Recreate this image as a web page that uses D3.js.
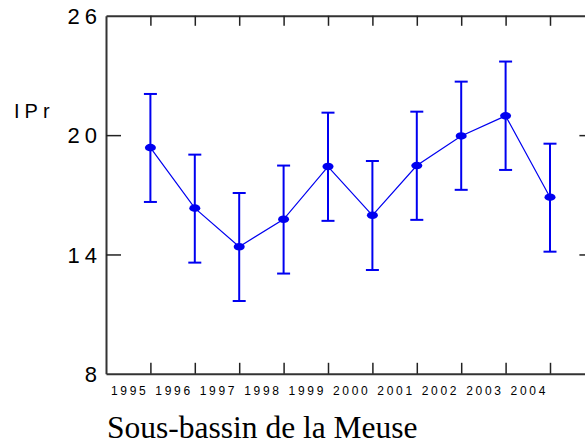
<!DOCTYPE html>
<html>
<head>
<meta charset="utf-8">
<script src="https://cdn.jsdelivr.net/npm/d3@7"></script>
<style>
  body { margin: 0; background: #fff; }
  svg { display: block; font-family: "Liberation Sans", Arial, sans-serif; }
</style>
</head>
<body>
<script>
// IPr par année, sous-bassin de la Meuse
const years = [1995, 1996, 1997, 1998, 1999, 2000, 2001, 2002, 2003, 2004]
const ipr   = [19.37, 16.33, 14.39, 15.77, 18.42, 15.97, 18.47, 19.96, 20.97, 16.88]
const iprLo = [16.64, 13.59, 11.66, 13.04, 15.69, 13.22, 15.74, 17.25, 18.25, 14.14]
const iprHi = [22.07, 19.02, 17.09, 18.47, 21.13, 18.70, 21.18, 22.69, 23.70, 19.57]
const yTicks = [8, 14, 20, 26]

const W = 585, H = 444
const plot = { left: 106, right: 594.4, top: 15.8, bottom: 373.8 }

const svg = d3.select("body").append("svg")
    .attr("width", W)
    .attr("height", H)

const x = d3.scaleLinear().domain([1994, 2005]).range([plot.left, plot.right])
const y = d3.scaleLinear().domain([8, 26]).range([plot.bottom, plot.top])

// axes ---------------------------------------------------------------
const axisColor = "#333"

svg.append("g")
    .attr("transform", "translate(0," + plot.bottom + ")")
    .call(d3.axisBottom(x).tickValues(d3.range(1995, 2006)).tickSize(-11).tickSizeOuter(0).tickFormat(""))
svg.append("g")
    .attr("transform", "translate(0," + plot.top + ")")
    .call(d3.axisTop(x).tickValues(d3.range(1995, 2006)).tickSize(-10).tickSizeOuter(0).tickFormat(""))
svg.append("g")
    .attr("transform", "translate(" + plot.left + ",0)")
    .call(d3.axisLeft(y).tickValues([14, 20]).tickSize(-15).tickSizeOuter(0).tickFormat(""))
svg.append("g")
    .attr("transform", "translate(" + plot.right + ",0)")
    .call(d3.axisRight(y).tickValues([14, 20]).tickSize(-15).tickSizeOuter(0).tickFormat(""))

svg.selectAll(".domain").attr("stroke", axisColor).attr("stroke-width", 2)
svg.selectAll(".tick line").attr("stroke", "#222").attr("stroke-width", 1.5)

// y labels
svg.append("g")
    .selectAll("text")
    .data(yTicks)
    .join("text")
    .attr("x", 102)
    .attr("y", d => y(d))
    .attr("dy", "0.38em")
    .attr("text-anchor", "end")
    .style("font-size", "22px")
    .style("letter-spacing", "5px")
    .text(d => d)

svg.append("text")
    .attr("x", 14)
    .attr("y", 118)
    .style("font-size", "20px")
    .style("letter-spacing", "5px")
    .text("IPr")

// year labels, between ticks
svg.append("g")
    .selectAll("text")
    .data(years)
    .join("text")
    .attr("x", d => x(d - 0.5) + 1.5)
    .attr("y", 395)
    .attr("text-anchor", "middle")
    .style("font-size", "12px")
    .style("letter-spacing", "2.7px")
    .text(d => d)

// error bars -----------------------------------------------------------
const blue = "#0000f0"
const bars = svg.append("g")
years.forEach((yr, i) => {
    bars.append("line")
        .attr("x1", x(yr)).attr("x2", x(yr))
        .attr("y1", y(iprLo[i])).attr("y2", y(iprHi[i]))
        .attr("stroke", blue).attr("stroke-width", 2)
    bars.append("line")
        .attr("x1", x(yr) - 6.5).attr("x2", x(yr) + 6.5)
        .attr("y1", y(iprHi[i])).attr("y2", y(iprHi[i]))
        .attr("stroke", blue).attr("stroke-width", 2)
    bars.append("line")
        .attr("x1", x(yr) - 6.5).attr("x2", x(yr) + 6.5)
        .attr("y1", y(iprLo[i])).attr("y2", y(iprLo[i]))
        .attr("stroke", blue).attr("stroke-width", 2)
})

const line = d3.line()
    .x((d, i) => x(years[i]))
    .y(d => y(d))

svg.append("path")
    .datum(ipr)
    .attr("d", line)
    .attr("fill", "none")
    .attr("stroke", blue)
    .attr("stroke-width", 1.2)

svg.append("g")
    .selectAll("ellipse")
    .data(ipr)
    .join("ellipse")
    .attr("cx", (d, i) => x(years[i]))
    .attr("cy", d => y(d))
    .attr("rx", 5.5)
    .attr("ry", 3.8)
    .attr("fill", blue)

// titre
svg.append("text")
    .attr("x", 107)
    .attr("y", 438)
    .style("font-family", "'Liberation Serif', 'Times New Roman', serif")
    .style("font-size", "31.5px")
    .text("Sous-bassin de la Meuse")
</script>
</body>
</html>
